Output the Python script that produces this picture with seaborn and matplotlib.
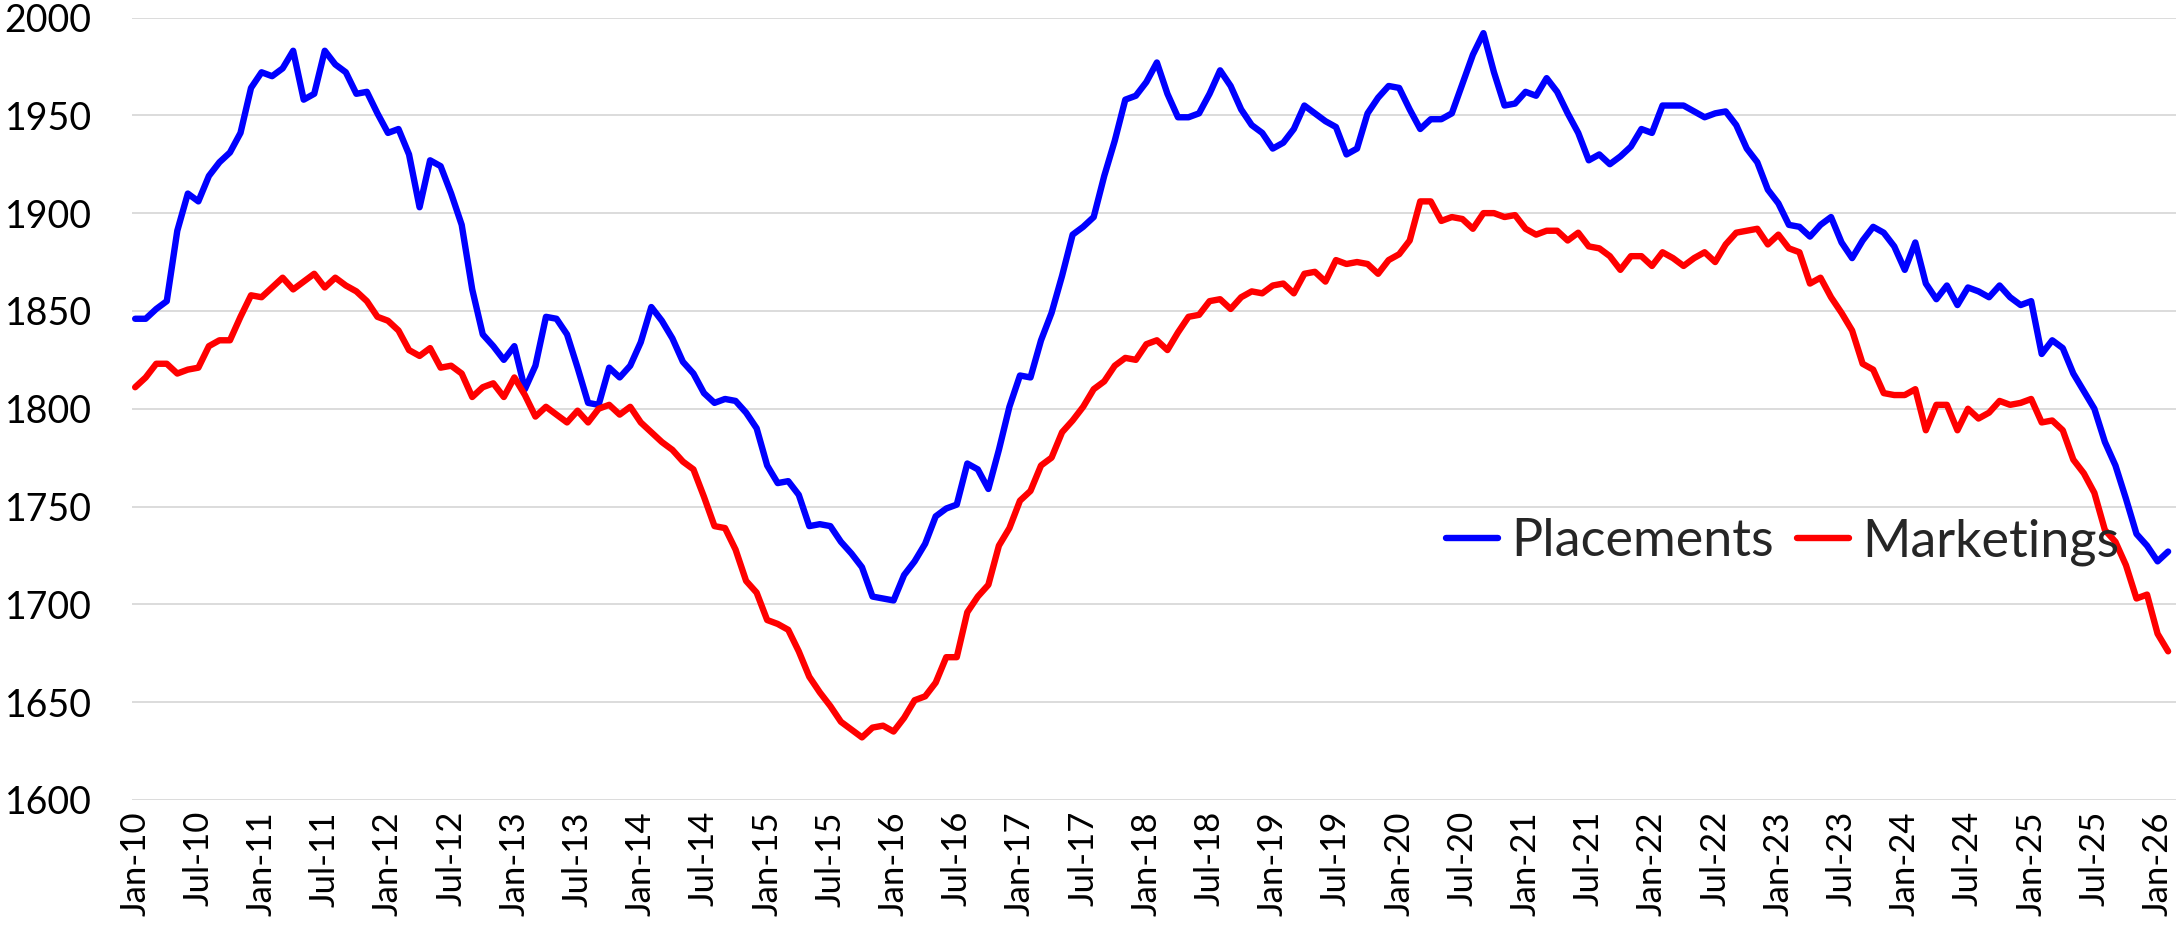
import matplotlib
matplotlib.use("Agg")
import matplotlib.pyplot as plt
import seaborn as sns
import pandas as pd
import numpy as np

months = pd.date_range("2010-01-01", periods=194, freq="MS")

placements = [
    1846, 1846, 1851, 1855, 1891, 1910, 1906, 1919, 1926, 1931, 1941, 1964,
    1972, 1970, 1974, 1983, 1958, 1961, 1983, 1976, 1972, 1961, 1962, 1951,
    1941, 1943, 1930, 1903, 1927, 1924, 1910, 1894, 1861, 1838, 1832, 1825,
    1832, 1810, 1822, 1847, 1846, 1838, 1821, 1803, 1802, 1821, 1816, 1822,
    1834, 1852, 1845, 1836, 1824, 1818, 1808, 1803, 1805, 1804, 1798, 1790,
    1771, 1762, 1763, 1756, 1740, 1741, 1740, 1732, 1726, 1719, 1704, 1703,
    1702, 1715, 1722, 1731, 1745, 1749, 1751, 1772, 1769, 1759, 1779, 1801,
    1817, 1816, 1835, 1849, 1868, 1889, 1893, 1898, 1919, 1937, 1958, 1960,
    1967, 1977, 1961, 1949, 1949, 1951, 1961, 1973, 1965, 1953, 1945, 1941,
    1933, 1936, 1943, 1955, 1951, 1947, 1944, 1930, 1933, 1951, 1959, 1965,
    1964, 1953, 1943, 1948, 1948, 1951, 1966, 1981, 1992, 1972, 1955, 1956,
    1962, 1960, 1969, 1962, 1951, 1941, 1927, 1930, 1925, 1929, 1934, 1943,
    1941, 1955, 1955, 1955, 1952, 1949, 1951, 1952, 1945, 1933, 1926, 1912,
    1905, 1894, 1893, 1888, 1894, 1898, 1885, 1877, 1886, 1893, 1890, 1883,
    1871, 1885, 1864, 1856, 1863, 1853, 1862, 1860, 1857, 1863, 1857, 1853,
    1855, 1828, 1835, 1831, 1818, 1809, 1800, 1783, 1771, 1754, 1736, 1730,
    1722, 1727,
]

marketings = [
    1811, 1816, 1823, 1823, 1818, 1820, 1821, 1832, 1835, 1835, 1847, 1858,
    1857, 1862, 1867, 1861, 1865, 1869, 1862, 1867, 1863, 1860, 1855, 1847,
    1845, 1840, 1830, 1827, 1831, 1821, 1822, 1818, 1806, 1811, 1813, 1806,
    1816, 1807, 1796, 1801, 1797, 1793, 1799, 1793, 1800, 1802, 1797, 1801,
    1793, 1788, 1783, 1779, 1773, 1769, 1755, 1740, 1739, 1728, 1712, 1706,
    1692, 1690, 1687, 1676, 1663, 1655, 1648, 1640, 1636, 1632, 1637, 1638,
    1635, 1642, 1651, 1653, 1660, 1673, 1673, 1696, 1704, 1710, 1730, 1739,
    1753, 1758, 1771, 1775, 1788, 1794, 1801, 1810, 1814, 1822, 1826, 1825,
    1833, 1835, 1830, 1839, 1847, 1848, 1855, 1856, 1851, 1857, 1860, 1859,
    1863, 1864, 1859, 1869, 1870, 1865, 1876, 1874, 1875, 1874, 1869, 1876,
    1879, 1886, 1906, 1906, 1896, 1898, 1897, 1892, 1900, 1900, 1898, 1899,
    1892, 1889, 1891, 1891, 1886, 1890, 1883, 1882, 1878, 1871, 1878, 1878,
    1873, 1880, 1877, 1873, 1877, 1880, 1875, 1884, 1890, 1891, 1892, 1884,
    1889, 1882, 1880, 1864, 1867, 1857, 1849, 1840, 1823, 1820, 1808, 1807,
    1807, 1810, 1789, 1802, 1802, 1789, 1800, 1795, 1798, 1804, 1802, 1803,
    1805, 1793, 1794, 1789, 1774, 1767, 1757, 1738, 1732, 1720, 1703, 1705,
    1685, 1676,
]

x_tick_labels = [
    "Jan-10", "Jul-10", "Jan-11", "Jul-11", "Jan-12", "Jul-12", "Jan-13", "Jul-13",
    "Jan-14", "Jul-14", "Jan-15", "Jul-15", "Jan-16", "Jul-16", "Jan-17", "Jul-17",
    "Jan-18", "Jul-18", "Jan-19", "Jul-19", "Jan-20", "Jul-20", "Jan-21", "Jul-21",
    "Jan-22", "Jul-22", "Jan-23", "Jul-23", "Jan-24", "Jul-24", "Jan-25", "Jul-25",
    "Jan-26",
]
y_ticks = [1600, 1650, 1700, 1750, 1800, 1850, 1900, 1950, 2000]

sns.set_theme(style="white")
plt.rcParams["font.family"] = ["Lato", "DejaVu Sans"]

df = pd.DataFrame({
    "idx": np.arange(len(months)),
    "Placements": placements,
    "Marketings": marketings,
})

fig = plt.figure(figsize=(21.76, 9.26), dpi=100)
ax = fig.add_axes([132 / 2176, (926 - 800) / 926, (2176 - 132) / 2176, (800 - 17.5) / 926])

sns.lineplot(data=df, x="idx", y="Placements", ax=ax, color="#0000FF",
             linewidth=4.6, label="Placements")
sns.lineplot(data=df, x="idx", y="Marketings", ax=ax, color="#FF0000",
             linewidth=4.6, label="Marketings")

ax.set_ylim(1600, 2000)
ax.set_xlim(-0.3, len(months) - 1 + 0.75)
ax.set_yticks(y_ticks)
ax.set_yticklabels([str(v) for v in y_ticks])
ax.set_xticks(np.arange(0, len(months), 6)[:len(x_tick_labels)])
ax.set_xticklabels(x_tick_labels, rotation=90)
ax.grid(axis="y", color="#D9D9D9", linewidth=1.3)
ax.grid(axis="x", visible=False)
ax.set_axisbelow(True)
for s in ax.spines.values():
    s.set_visible(False)
ax.tick_params(axis="both", length=0, colors="black")
ax.tick_params(axis="y", pad=29, labelsize=27)
ax.tick_params(axis="x", pad=8, labelsize=25)
ax.set_xlabel("")
ax.set_ylabel("")

ax.legend(loc="center", bbox_to_anchor=(0.8076, 0.33), ncol=2, frameon=False,
          fontsize=37.5, handlelength=1.0, handletextpad=0.25, columnspacing=0.45,
          borderpad=0)

fig.savefig("out.png", dpi=100)
